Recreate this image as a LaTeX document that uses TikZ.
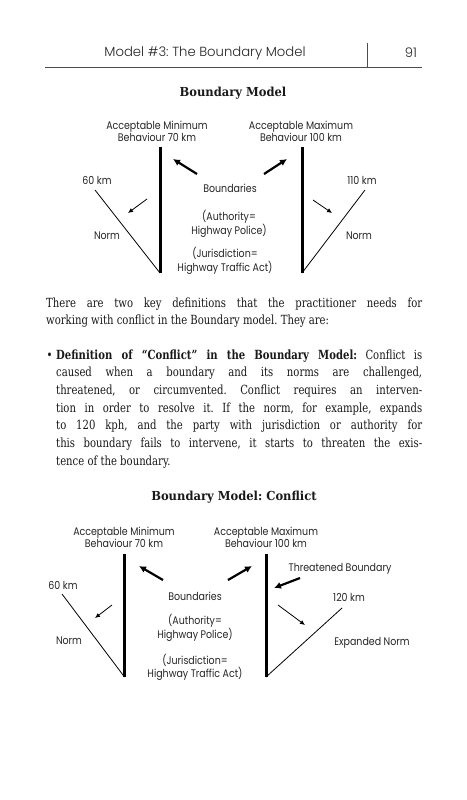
\documentclass[tikz,border=0pt]{standalone}
\usepackage{fontspec}
\setmainfont{DejaVu Serif}[FakeStretch=0.80]
\newfontfamily\ttlfont{DejaVu Serif}[FakeStretch=0.93]
\newfontfamily\lblfont{Poppins}[FakeStretch=0.86]
\newfontfamily\hdrfont{Poppins Light}
\usetikzlibrary{arrows.meta}
\newcommand{\jl}[2][376pt]{\makebox[#1][s]{#2}}
\begin{document}
\frenchspacing
\begin{tikzpicture}[x=1pt,y=-1pt,
  lbl/.style={font=\lblfont\fontsize{11}{12.2}\selectfont, inner sep=0pt, align=center, text=black!85},
  hdr/.style={font=\hdrfont\fontsize{13.2}{14}\selectfont, inner sep=0pt, text=black!85},
  ttl/.style={font=\ttlfont\bfseries\fontsize{12.4}{14}\selectfont, inner sep=0pt, text=black!90},
  body/.style={font=\fontsize{12.6}{17.7}\selectfont, inner sep=0pt, anchor=base west, text=black!90},
  bline/.style={line width=3pt},
  nline/.style={line width=0.8pt},
  bigarrow/.style={line width=2.2pt, -{Latex[length=7pt,width=7pt]}},
  smallarrow/.style={line width=0.8pt, -{Latex[length=5pt,width=4.5pt]}},
]
\fill[white] (0,0) rectangle (466,800);
\useasboundingbox (0,0) rectangle (466,800);

% ---------- running head ----------
\node[hdr] (head) at (205,53) {Model \#3: The Boundary Model};
\node[hdr] (page) at (411,53) {91};
\coordinate (rl) at (45,67);
\coordinate (rr) at (422,67);
\coordinate (st) at (367,43);
\coordinate (sb) at (367,67);
\draw[line width=0.7pt, black!70] (rl) -- (rr);
\draw[line width=0.7pt, black!70] (st) -- (sb);

% ---------- diagram 1 ----------
\node[ttl] (t1) at (233,93) {Boundary Model};
\node[lbl] (a1min) at (157,131.5) {Acceptable Minimum\\Behaviour 70 km};
\node[lbl] (a1max) at (301,131.5) {Acceptable Maximum\\Behaviour 100 km};
\node[lbl] (k60a) at (97,180) {60 km};
\node[lbl] (k110) at (362,180) {110 km};
\node[lbl] (bd1) at (230,188) {Boundaries};
\node[lbl] (au1) at (229,223.5) {(Authority=\\Highway Police)};
\node[lbl] (ju1) at (225,261) {(Jurisdiction=\\Highway Traffic Act)};
\node[lbl] (n1l) at (107,236) {Norm};
\node[lbl] (n1r) at (359,236) {Norm};

\coordinate (v1lt) at (160,147);
\coordinate (v1lb) at (160,273);
\coordinate (v1rt) at (302,147);
\coordinate (v1rb) at (302,273);
\coordinate (d1lt) at (95,190);
\coordinate (d1rt) at (365,190);
\draw[bline] (v1lt) -- (v1lb);
\draw[bline] (v1rt) -- (v1rb);
\draw[nline] (d1lt) -- (v1lb);
\draw[nline] (v1rb) -- (d1rt);
\coordinate (s1ls) at (147,199);
\coordinate (s1le) at (128,213);
\coordinate (s1rs) at (313,200);
\coordinate (s1re) at (332,213);
\draw[smallarrow] (s1ls) -- (s1le);
\draw[smallarrow] (s1rs) -- (s1re);
\coordinate (b1ls) at (197,174);
\coordinate (b1le) at (173,159);
\coordinate (b1rs) at (264,174);
\coordinate (b1re) at (287,159);
\draw[bigarrow] (b1ls) -- (b1le);
\draw[bigarrow] (b1rs) -- (b1re);

% ---------- text ----------
\node[body] (p1) at (46,307) {\jl{There are two key definitions that the practitioner needs for}};
\node[body] (p2) at (46,324.7) {working with conflict in the Boundary model. They are:};
\node[body] (bul) at (46.5,359) {•};
\node[body] (q1) at (56,359) {\jl[366pt]{\textbf{Definition of “Conflict” in the Boundary Model:} Conflict is}};
\node[body] (q2) at (56,376.7) {\jl[366pt]{caused when a boundary and its norms are challenged,}};
\node[body] (q3) at (56,394.4) {\jl[366pt]{threatened, or circumvented. Conflict requires an interven-}};
\node[body] (q4) at (56,412.1) {\jl[366pt]{tion in order to resolve it. If the norm, for example, expands}};
\node[body] (q5) at (56,429.8) {\jl[366pt]{to 120 kph, and the party with jurisdiction or authority for}};
\node[body] (q6) at (56,447.5) {\jl[366pt]{this boundary fails to intervene, it starts to threaten the exis-}};
\node[body] (q7) at (56,465.2) {tence of the boundary.};

% ---------- diagram 2 ----------
\node[ttl] (t2) at (234,497) {Boundary Model: Conflict};
\node[lbl] (a2min) at (124,537.5) {Acceptable Minimum\\Behaviour 70 km};
\node[lbl] (a2max) at (266,537.5) {Acceptable Maximum\\Behaviour 100 km};
\node[lbl] (k60b) at (63,585) {60 km};
\node[lbl] (n2l) at (69,641) {Norm};
\node[lbl] (bd2) at (195,596) {Boundaries};
\node[lbl] (au2) at (195,628) {(Authority=\\Highway Police)};
\node[lbl] (ju2) at (195,667) {(Jurisdiction=\\Highway Traffic Act)};
\node[lbl] (thr) at (340,569) {Threatened Boundary};
\node[lbl] (k120) at (349,597) {120 km};
\node[lbl] (exn) at (372,643) {Expanded Norm};

\coordinate (v2lt) at (124.5,554);
\coordinate (v2lb) at (124.5,677);
\coordinate (v2rt) at (266,554);
\coordinate (v2rb) at (266,677);
\coordinate (d2lt) at (62,594);
\coordinate (d2rt) at (342,608);
\draw[bline] (v2lt) -- (v2lb);
\draw[bline] (v2rt) -- (v2rb);
\draw[nline] (d2lt) -- (v2lb);
\draw[nline] (v2rb) -- (d2rt);
\coordinate (s2ls) at (112,605);
\coordinate (s2le) at (95,618);
\coordinate (s2rs) at (278,605);
\coordinate (s2re) at (305,625);
\draw[smallarrow] (s2ls) -- (s2le);
\draw[smallarrow] (s2rs) -- (s2re);
\coordinate (b2ls) at (163,580);
\coordinate (b2le) at (139,566);
\coordinate (b2rs) at (228,580);
\coordinate (b2re) at (252,566);
\coordinate (b2ts) at (300,578);
\coordinate (b2te) at (274,588);
\draw[bigarrow] (b2ls) -- (b2le);
\draw[bigarrow] (b2rs) -- (b2re);
\draw[bigarrow] (b2ts) -- (b2te);
\end{tikzpicture}
\end{document}
